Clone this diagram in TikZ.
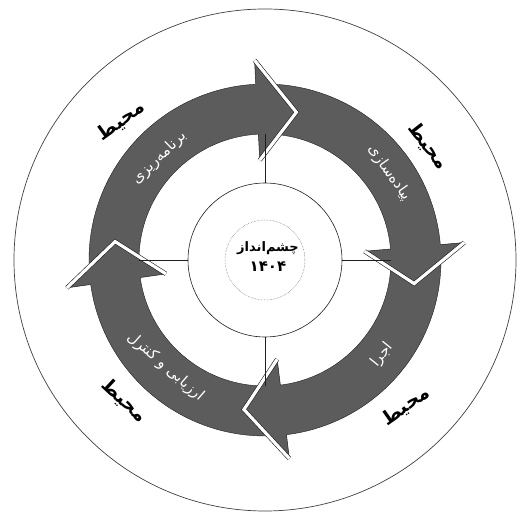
\documentclass[tikz,border=0pt]{standalone}
\usepackage{fontspec}
\usepackage{tikz}
\usetikzlibrary{positioning, calc}
\TeXXeTstate=1
\newfontfamily\arabicfont[Script=Arabic]{DejaVu Sans}
\definecolor{ringgray}{RGB}{92,92,92}
\definecolor{mydark}{RGB}{30,30,30}
\tikzset{
  ringtext/.style={text=white, inner sep=0pt,
    font=\arabicfont\fontsize{15}{17}\selectfont},
  envtext/.style={text=black, inner sep=0pt,
    font=\arabicfont\bfseries\fontsize{19}{22}\selectfont},
  chevron/.style={draw=white, line width=3.2pt, miter limit=20},
  chevronedge/.style={draw=mydark, line width=4.4pt, miter limit=20},
  spoke/.style={draw=mydark, line width=0.6pt}
}

\begin{document}
\begin{tikzpicture}[x=1pt, y=1pt]
  \useasboundingbox (-265,-253) rectangle (255,260);
  \draw[black!75, line width=0.7pt] (0,0) circle (251);
  % ring of the four stages
  \fill[ringgray, even odd rule] (0,0) circle (176) (0,0) circle (126);
  \draw[mydark, line width=0.4pt] (0,0) circle (176) (0,0) circle (126);
  \foreach \ba/\tp [count=\i] in {93/78, 5/-9, -83/-98, 188/173} {
    \coordinate (hout\i) at (\ba:200);
    \coordinate (hin\i) at (\ba:100);
    \coordinate (htip\i) at (\tp:151);
    \fill[ringgray] (hout\i) -- (htip\i) -- (hin\i) -- cycle;
    \draw[mydark, line width=0.5pt] (hout\i) -- (\ba:176) (\ba:126) -- (hin\i);
    \draw[chevronedge] (hout\i) -- (htip\i) -- (hin\i);
    \draw[chevron] (hout\i) -- (htip\i) -- (hin\i);
  }
  \node[circle, draw=mydark, line width=0.6pt, fill=white,
    minimum size=154pt, inner sep=0pt] (mid) at (0,0) {};
  \node[circle, draw=black!60, densely dotted, line width=0.5pt,
    minimum size=80pt, inner sep=0pt] (core) at (0,0) {};
  \node[align=center, font=\arabicfont\bfseries\fontsize{13}{20}\selectfont]
    (vision) at (3,3) {\beginR چشم‌انداز\endR\\{\fontsize{15}{20}\selectfont ۱۴۰۴}};
  % spokes
  \coordinate (rin-top) at (90:126);
  \coordinate (rin-right) at (0:126);
  \coordinate (rin-bot) at (-90:126);
  \coordinate (rin-left) at (180:126);
  \draw[spoke] (mid.north) -- (rin-top);
  \draw[spoke] (mid.east) -- (rin-right);
  \draw[spoke] (mid.south) -- (rin-bot);
  \draw[spoke] (mid.west) -- (rin-left);
  % stage labels
  \node[ringtext, rotate=44] (plan) at (136:147) {\beginR برنامه‌ریزی\endR};
  \node[ringtext, rotate=-55] (impl) at (35:152) {\beginR پیاده‌سازی\endR};
  \node[ringtext, rotate=51] (exec) at (-39:151) {\beginR اجرا\endR};
  \node[ringtext, rotate=-41] (eval) at (227:146) {\beginR ارزیابی و کنترل\endR};
  % environment
  \node[envtext, rotate=36] (env-tl) at (136:200) {\beginR محیط\endR};
  \node[envtext, rotate=-52] (env-tr) at (35:199) {\beginR محیط\endR};
  \node[envtext, rotate=-43] (env-bl) at (225:199) {\beginR محیط\endR};
  \node[envtext, rotate=35] (env-br) at (-46:203) {\beginR محیط\endR};
\end{tikzpicture}
\end{document}
